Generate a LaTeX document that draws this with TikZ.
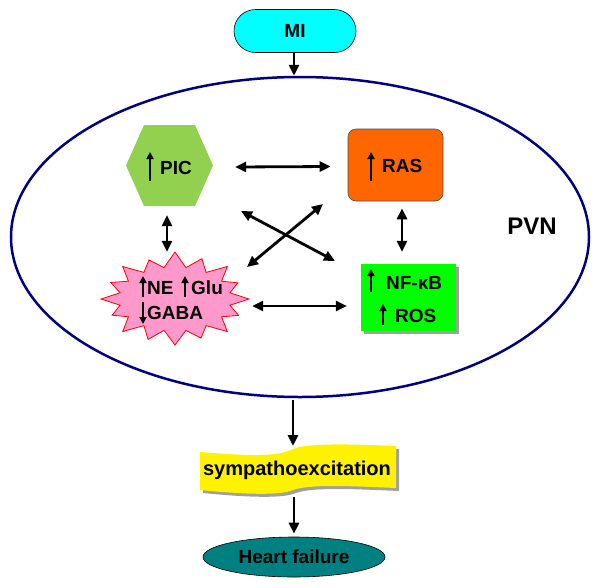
\documentclass[tikz,border=0pt]{standalone}
\usepackage{fontspec}
\setmainfont{Liberation Sans}
\usetikzlibrary{arrows.meta,shapes.geometric,shapes.misc,calc}
\definecolor{micyan}{HTML}{00FFFF}
\definecolor{picgreen}{HTML}{92D050}
\definecolor{rasorange}{HTML}{FF6600}
\definecolor{nfgreen}{HTML}{00FF00}
\definecolor{burstpink}{HTML}{FF99CC}
\definecolor{hfteal}{HTML}{008080}
\definecolor{pvnnavy}{HTML}{000080}
\definecolor{shadowgray}{HTML}{A0A0A0}
\tikzset{
  lbl/.style={font=\fontsize{19}{22}\selectfont\bfseries, inner sep=0pt},
  conn/.style={line width=2.8pt, -{Triangle[length=11pt,width=10pt]}},
  dconn/.style={line width=2.8pt, {Triangle[length=11pt,width=10pt]}-{Triangle[length=11pt,width=10pt]}},
  upar/.style={line width=2pt, -{Triangle[length=7pt,width=7pt]}},
  anchorbox/.style={draw=none, inner sep=0pt}
}
\begin{document}
\begin{tikzpicture}[x=1pt,y=-1pt]
\useasboundingbox (0,0) rectangle (600,587);

% MI
\node[rounded rectangle, draw=black, line width=0.6pt, fill=micyan, minimum width=122pt, minimum height=43pt, lbl] (mi) at (295,31) {MI};

% PVN ellipse
\node[ellipse, draw=pvnnavy, line width=2.5pt, minimum width=578pt, minimum height=320pt, inner sep=0pt] (pvn) at (300,237) {};
\node[lbl, font=\fontsize{24}{28}\selectfont\bfseries] (pvnlabel) at (532,226) {PVN};

% PIC hexagon
\node[anchorbox, minimum width=87pt, minimum height=81pt] (pic) at (169.5,165.5) {};
\fill[picgreen] (126,165.5) -- (144,125) -- (195,125) -- (213,165.5) -- (195,206) -- (144,206) -- cycle;
\node[lbl, anchor=west] (pictxt) at (160,168) {PIC};
\draw[upar] (150,181) -- (150,152);

% RAS box
\node[rectangle, rounded corners=8pt, draw=black!70, line width=0.6pt, fill=rasorange, minimum width=95pt, minimum height=72pt] (ras) at (395.5,165) {};
\node[lbl, anchor=west] (rastxt) at (382,166) {RAS};
\draw[upar] (371,181) -- (371,152);

% NF-kB / ROS box
\fill[shadowgray] (364,267) rectangle (459,334);
\node[rectangle, fill=nfgreen, minimum width=95pt, minimum height=67pt, inner sep=0pt] (nf) at (408.5,297.5) {};
\node[lbl, anchor=west] (nftxt) at (386,283) {NF-κB};
\draw[upar] (371,292) -- (371,269);
\node[lbl, anchor=west] (rostxt) at (395,316) {ROS};
\draw[upar] (383,325) -- (383,304);

% Burst
\node[anchorbox, minimum width=146pt, minimum height=92pt] (burst) at (175,299) {};
\begin{scope}[shift={(burst.center)}]
\draw[draw=red, line width=0.8pt, fill=burstpink]
  (0:74 and 46)
  \foreach \a/\f in {22.5/0.93,45/1.0,67.5/0.92,90/1.0,112.5/0.95,135/1.0,157.5/0.92,180/1.0,202.5/0.94,225/1.0,247.5/0.92,270/1.02,292.5/0.95,315/1.0,337.5/0.92}
  { -- ({\a-11.25}:56 and 32) -- (\a:{74*\f} and {46*\f}) }
  -- (348.75:56 and 32) -- cycle;
\end{scope}
\node[lbl, anchor=west] (netxt) at (147,288) {NE};
\node[lbl, anchor=west] (glutxt) at (191,288) {Glu};
\node[lbl, anchor=west] (gabatxt) at (147,313) {GABA};
\draw[upar] (143,297) -- (143,276);
\draw[upar] (185,297) -- (185,276);
\draw[upar] (143,302) -- (143,324);

% Connectors inside PVN
\draw[dconn] ($(pic.east)+(22,1.5)$) -- ($(ras.west)+(-17,1.5)$);
\draw[dconn] ($(pic.south)+(-2.5,9)$) -- ($(burst.north)+(-8,-1)$);
\draw[dconn] ($(ras.south)+(6.5,7)$) -- ($(nf.north)+(-6.5,-12)$);
\draw[dconn] ($(burst.east)+(4,7)$) -- ($(nf.west)+(-14,8.5)$);
\coordinate (xa1) at (241,211);
\coordinate (xa2) at (335,261);
\coordinate (xb1) at (247,267);
\coordinate (xb2) at (323,204);
\draw[dconn] (xa1) -- (xa2);
\draw[dconn] (xb1) -- (xb2);

% Sympathoexcitation
\node[lbl, font=\fontsize{20}{24}\selectfont\bfseries] (sym) at (297,470) {sympathoexcitation};
\begin{scope}[shift={(3,3)}]
\fill[shadowgray] (200,452) .. controls (250,456) and (278,457) .. (293,449) .. controls (306,443) and (350,444) .. (396,446)
  -- (396,488) .. controls (350,486) and (310,484) .. (293,490) .. controls (280,496) and (240,494) .. (200,490) -- cycle;
\end{scope}
\fill[yellow] (200,452) .. controls (250,456) and (278,457) .. (293,449) .. controls (306,443) and (350,444) .. (396,446)
  -- (396,488) .. controls (350,486) and (310,484) .. (293,490) .. controls (280,496) and (240,494) .. (200,490) -- cycle;
\node[lbl, font=\fontsize{20}{24}\selectfont\bfseries] at (sym) {sympathoexcitation};

% Heart failure
\node[ellipse, draw=black, line width=0.6pt, fill=hfteal, minimum width=182pt, minimum height=40pt, inner sep=0pt, lbl] (hf) at (294,557) {Heart failure};

% Main flow arrows
\draw[conn] ($(mi.south)+(-1,0)$) -- ($(pvn.north)+(-6,0)$);
\draw[conn] ($(pvn.south)+(-7,2)$) -- ($(sym.center)+(-4,-24)$);
\draw[conn] ($(sym.center)+(-3,27)$) -- ($(hf.north)+(0,-3)$);
\end{tikzpicture}
\end{document}
